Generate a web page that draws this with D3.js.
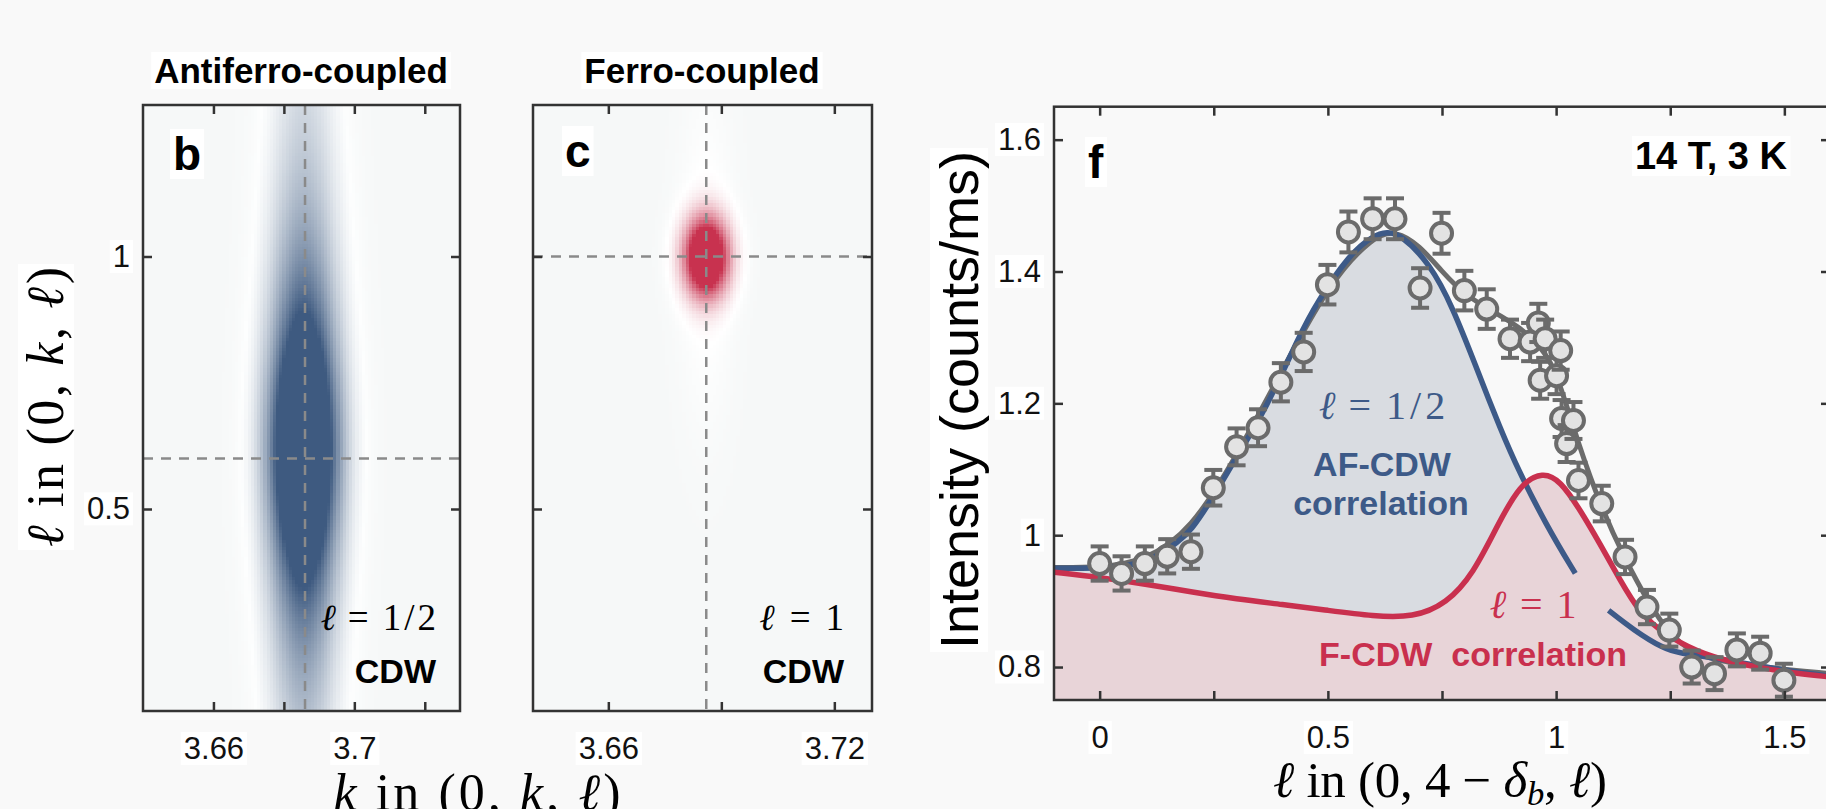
<!DOCTYPE html>
<html>
<head>
<meta charset="utf-8">
<script src="https://cdn.jsdelivr.net/npm/d3@7"></script>
<style>
html, body { margin: 0; padding: 0; background: #f9f9f9; }
svg { display: block; }
</style>
</head>
<body>
<div id="wrapper"></div>
<script>
// ---- panels b, c : model peaks in (k, l)
const kDomain = [3.64, 3.73]
const lDomain = [0.1, 1.3]
const bTicksK = [3.66, 3.68, 3.7, 3.72]
const bLabelsK = [3.66, 3.7]
const cTicksK = [3.66, 3.69, 3.72]
const cLabelsK = [3.66, 3.72]
const ticksL = [0.5, 1]
const afCentre = [3.6856, 0.62]   // k, l
const afWidth = [0.0067, 0.275]   // gaussian sigma in k, lorentz hwhm in l
const fCentre = [3.686, 1.0]
const fWidth = [0.0039, 0.052]
const fHalo = [0.0048, 0.22, 0.03]
const guideK = 3.686
const afGuideL = 0.6
const fGuideL = 1.0

// ---- panel f : scan along l
const ell = [0, 0.048, 0.099, 0.148, 0.2, 0.249, 0.3, 0.347, 0.397, 0.447, 0.499, 0.545, 0.598, 0.647, 0.702, 0.749, 0.799, 0.848, 0.899, 0.943, 0.961, 0.965, 0.976, 1.001, 1.01, 1.012, 1.023, 1.038, 1.049, 1.1, 1.151, 1.199, 1.248, 1.297, 1.347, 1.396, 1.447, 1.499]
const counts = [0.957, 0.942, 0.957, 0.968, 0.975, 1.072, 1.134, 1.163, 1.232, 1.278, 1.38, 1.46, 1.48, 1.48, 1.375, 1.458, 1.371, 1.343, 1.298, 1.293, 1.322, 1.235, 1.298, 1.242, 1.28, 1.177, 1.139, 1.174, 1.083, 1.048, 0.967, 0.891, 0.856, 0.8, 0.79, 0.826, 0.821, 0.78]
const errs = [0.026, 0.026, 0.026, 0.026, 0.026, 0.027, 0.028, 0.028, 0.029, 0.029, 0.03, 0.031, 0.031, 0.031, 0.03, 0.031, 0.03, 0.03, 0.029, 0.029, 0.029, 0.028, 0.029, 0.028, 0.029, 0.028, 0.028, 0.028, 0.027, 0.027, 0.026, 0.026, 0.025, 0.025, 0.025, 0.025, 0.025, 0.025]

const totalFit = [[-0.1, 0.951], [0, 0.951], [0.1, 0.961], [0.2, 1.007], [0.3, 1.12], [0.4, 1.25], [0.5, 1.38], [0.6, 1.455], [0.65, 1.462], [0.7, 1.44], [0.75, 1.4], [0.8, 1.364], [0.87, 1.336], [0.92, 1.316], [0.97, 1.283], [1.0, 1.25], [1.05, 1.135], [1.1, 1.04], [1.15, 0.965], [1.2, 0.9], [1.25, 0.848], [1.3, 0.822], [1.35, 0.81], [1.45, 0.8], [1.6, 0.79]]
const afFitLeft = [[-0.1, 0.95], [0, 0.95], [0.05, 0.952], [0.1, 0.96], [0.14, 0.974], [0.168, 0.988], [0.2, 1.006], [0.249, 1.058], [0.3, 1.119], [0.365, 1.192], [0.439, 1.305], [0.475, 1.352], [0.548, 1.427], [0.6, 1.455], [0.63, 1.46], [0.658, 1.457], [0.724, 1.412], [0.774, 1.345], [0.825, 1.255], [0.862, 1.189], [0.906, 1.114], [0.98, 1.013], [1.042, 0.942]]
const afFitRight = [[1.115, 0.886], [1.17, 0.856], [1.235, 0.828], [1.272, 0.821], [1.344, 0.814], [1.4, 0.807], [1.5, 0.795], [1.6, 0.786]]
const fFit = [[-0.1, 0.944], [0, 0.936], [0.1, 0.926], [0.2, 0.914], [0.3, 0.903], [0.4, 0.895], [0.5, 0.886], [0.6, 0.877], [0.687, 0.875], [0.76, 0.896], [0.819, 0.942], [0.87, 1.013], [0.921, 1.078], [0.971, 1.096], [1.009, 1.083], [1.053, 1.038], [1.096, 0.987], [1.14, 0.932], [1.184, 0.881], [1.235, 0.851], [1.309, 0.823], [1.382, 0.808], [1.455, 0.798], [1.528, 0.79], [1.6, 0.785]]
const fTicksX = [0, 0.25, 0.5, 0.75, 1, 1.25, 1.5]
const fTicksY = [0.8, 1, 1.2, 1.4, 1.6]

const blue = "#3d5a88", red = "#c9304e", grey = "#6b6b6b"
const sans = "'Liberation Sans', Arial, sans-serif"
const serif = "'Liberation Serif', 'DejaVu Serif', serif"

const width = 1826, height = 809
const svg = d3.select("#wrapper").append("svg")
    .attr("width", width)
    .attr("height", height)
svg.append("rect").attr("width", width).attr("height", height).attr("fill", "#f9f9f9")
const defs = svg.append("defs")

function whiteBox(textNode) {
    if (!textNode.textContent) return
    const b = textNode.getBBox()
    d3.select(textNode.parentNode).insert("rect", () => textNode)
        .attr("x", b.x - 3).attr("y", b.y + 1)
        .attr("width", b.width + 6).attr("height", b.height - 2)
        .attr("fill", "#ffffff")
}

function label(g, x, y, str, size, opts = {}) {
    const t = g.append("text")
        .attr("x", x).attr("y", y)
        .attr("font-family", opts.family || sans)
        .attr("font-size", size)
        .attr("font-weight", opts.weight || "normal")
        .attr("fill", opts.fill || "#000")
        .attr("text-anchor", opts.anchor || "start")
        .style("white-space", "pre")
        .text(str)
    if (opts.box) whiteBox(t.node())
    return t
}

// math text: parts are [string, italic, subscript, dx]
function math(g, x, y, parts, size, opts = {}) {
    const t = g.append("text")
        .attr("x", x).attr("y", y)
        .attr("font-family", serif)
        .attr("font-size", size)
        .attr("fill", opts.fill || "#000")
        .attr("text-anchor", opts.anchor || "middle")
        .style("white-space", "pre")
    if (opts.len) t.attr("textLength", opts.len).attr("lengthAdjust", "spacing")
    let lifted = false
    parts.forEach(p => {
        const s = t.append("tspan").text(p[0])
        if (p[1]) s.attr("font-style", "italic")
        if (p[3]) s.attr("dx", p[3])
        if (p[2]) { s.attr("dy", size * 0.16).attr("font-size", size * 0.68); lifted = true }
        else if (lifted) { s.attr("dy", -size * 0.16); lifted = false }
    })
    if (opts.box) whiteBox(t.node())
    return t
}

function frame(g, x, y, xTicks, xLabels, yTicks, yLabels, fmtX, fmtY) {
    const [x0, x1] = x.range(), [y0, y1] = y.range()
    const style = sel => {
        sel.select(".domain").remove()
        sel.selectAll(".tick line").attr("stroke", "#333").attr("stroke-width", 2.5)
        sel.selectAll(".tick text").attr("font-family", sans).attr("font-size", 31).attr("fill", "#111")
    }
    g.append("g").attr("transform", "translate(0," + y0 + ")")
        .call(d3.axisBottom(x).tickValues(xTicks).tickSize(-9).tickPadding(26)
            .tickFormat(d => xLabels.includes(d) ? fmtX(d) : ""))
        .call(style)
        .selectAll(".tick text").each(function() { whiteBox(this) })
    g.append("g").attr("transform", "translate(0," + y1 + ")")
        .call(d3.axisTop(x).tickValues(xTicks).tickSize(-9).tickFormat(""))
        .call(style)
    g.append("g").attr("transform", "translate(" + x0 + ",0)")
        .call(d3.axisLeft(y).tickValues(yTicks).tickSize(-9).tickPadding(13)
            .tickFormat(d => yLabels.includes(d) ? fmtY(d) : ""))
        .call(style)
        .selectAll(".tick text").each(function() { whiteBox(this) })
    g.append("g").attr("transform", "translate(" + x1 + ",0)")
        .call(d3.axisRight(y).tickValues(yTicks).tickSize(-9).tickFormat(""))
        .call(style)
    g.append("rect")
        .attr("x", x0).attr("y", y1)
        .attr("width", x1 - x0).attr("height", y0 - y1)
        .attr("fill", "none").attr("stroke", "#333").attr("stroke-width", 2.5)
}

function clip(id, x, y) {
    defs.append("clipPath").attr("id", id).append("rect")
        .attr("x", x.range()[0]).attr("y", y.range()[1])
        .attr("width", x.range()[1] - x.range()[0])
        .attr("height", y.range()[0] - y.range()[1])
}

// heat map of a peak as a grid of cells
const nk = 100, nl = 180
function heatmap(g, x, y, value, colour, clipId) {
    const [k0, k1] = x.domain(), [l0, l1] = y.domain()
    const dk = (k1 - k0) / nk, dl = (l1 - l0) / nl
    const cells = []
    for (let i = 0; i < nk; i++)
        for (let j = 0; j < nl; j++)
            cells.push([k0 + (i + 0.5) * dk, l0 + (j + 0.5) * dl])
    const cw = x(k0 + dk) - x(k0), ch = y(l0) - y(l0 + dl)
    g.append("g").attr("clip-path", "url(#" + clipId + ")")
        .attr("shape-rendering", "crispEdges")
        .selectAll("rect").data(cells).join("rect")
        .attr("x", d => x(d[0]) - cw / 2)
        .attr("y", d => y(d[1]) - ch / 2)
        .attr("width", cw + 0.7)
        .attr("height", ch + 0.7)
        .attr("fill", d => colour(value(d[0], d[1])))
}

function guides(g, x, y, kVal, lVal) {
    g.append("line")
        .attr("x1", x(kVal)).attr("x2", x(kVal))
        .attr("y1", y.range()[1]).attr("y2", y.range()[0])
        .attr("stroke", "#8a8a8a").attr("stroke-width", 2.5).attr("stroke-dasharray", "10,8")
    g.append("line")
        .attr("x1", x.range()[0]).attr("x2", x.range()[1])
        .attr("y1", y(lVal)).attr("y2", y(lVal))
        .attr("stroke", "#8a8a8a").attr("stroke-width", 2.5).attr("stroke-dasharray", "10,8")
}

const afValue = (k, l) => Math.exp(-Math.pow(k - afCentre[0], 2) / (2 * afWidth[0] * afWidth[0]))
    / (1 + Math.pow((l - afCentre[1]) / afWidth[1], 2))
const fValue = (k, l) => Math.exp(-Math.pow(k - fCentre[0], 2) / (2 * fWidth[0] * fWidth[0])
        - Math.pow(l - fCentre[1], 2) / (2 * fWidth[1] * fWidth[1]))
    + fHalo[2] * Math.exp(-Math.pow(k - fCentre[0], 2) / (2 * fHalo[0] * fHalo[0])
        - Math.pow(l - fCentre[1], 2) / (2 * fHalo[1] * fHalo[1]))
const afColour = d3.scaleLinear().domain([0, 0.03, 0.5]).range(["#f6f8f8", "#fdfefe", "#3e5a80"]).clamp(true)
const fColour = d3.scaleLinear().domain([0, 0.025, 0.55]).range(["#f6f8f8", "#ffffff", "#c8324f"]).clamp(true)

// ---------- panel b
const gB = svg.append("g")
const xB = d3.scaleLinear().domain(kDomain).range([143, 460])
const yB = d3.scaleLinear().domain(lDomain).range([711, 105])
clip("clipB", xB, yB)
heatmap(gB, xB, yB, afValue, afColour, "clipB")
guides(gB, xB, yB, guideK, afGuideL)
frame(gB, xB, yB, bTicksK, bLabelsK, ticksL, ticksL, d3.format(""), d3.format(""))
label(gB, 301, 83, "Antiferro-coupled", 35, { weight: "bold", anchor: "middle", box: true })
label(gB, 173, 170, "b", 46, { weight: "bold", box: true })
math(gB, 436, 630, [["ℓ", true], ["=", false, false, 12], ["1", false, false, 14], ["/", false, false, 3], ["2", false, false, 3]], 37, { anchor: "end" })
label(gB, 436, 683, "CDW", 34, { weight: "bold", anchor: "end" })

// ---------- panel c
const gC = svg.append("g")
const xC = d3.scaleLinear().domain(kDomain).range([533, 872])
const yC = d3.scaleLinear().domain(lDomain).range([711, 105])
clip("clipC", xC, yC)
heatmap(gC, xC, yC, fValue, fColour, "clipC")
guides(gC, xC, yC, guideK, fGuideL)
frame(gC, xC, yC, cTicksK, cLabelsK, ticksL, [], d3.format(""), d3.format(""))
label(gC, 702, 83, "Ferro-coupled", 35, { weight: "bold", anchor: "middle", box: true })
label(gC, 565, 167, "c", 46, { weight: "bold", box: true })
math(gC, 844, 630, [["ℓ", true], ["=", false, false, 15], ["1", false, false, 15]], 37, { anchor: "end" })
label(gC, 844, 683, "CDW", 34, { weight: "bold", anchor: "end" })

// shared axis titles for b, c (the bottom one runs off the page, as in the figure)
const yTitleB = svg.append("g").attr("transform", "translate(63,407) rotate(-90)")
math(yTitleB, 0, 0, [["ℓ", true], [" in (0, "], ["k", true], [", "], ["ℓ", true], [")"]], 52, { len: 280, box: true })
math(svg, 477, 810, [["k", true], [" in (0, "], ["k", true], [", "], ["ℓ", true], [")"]], 52, { len: 287 })

// ---------- panel f
const gF = svg.append("g")
const xF = d3.scaleLinear().domain([-0.1, 1.6]).range([1054, 1830])
const yF = d3.scaleLinear().domain([0.75, 1.65]).range([700, 106.7])
clip("clipF", xF, yF)
const plot = gF.append("g").attr("clip-path", "url(#clipF)")

const area = d3.area().curve(d3.curveBasis)
    .x(d => xF(d[0])).y0(yF(0.75)).y1(d => yF(d[1]))
const line = d3.line().curve(d3.curveBasis)
    .x(d => xF(d[0])).y(d => yF(d[1]))

plot.append("path").datum(afFitLeft).attr("d", area).attr("fill", "#d9dce1")
plot.append("path").datum(fFit).attr("d", area).attr("fill", "#e8d4d8")
plot.append("path").datum(totalFit).attr("d", line)
    .attr("fill", "none").attr("stroke", grey).attr("stroke-width", 5)
plot.selectAll(".af").data([afFitLeft, afFitRight]).join("path")
    .attr("class", "af").attr("d", line)
    .attr("fill", "none").attr("stroke", blue).attr("stroke-width", 5.5)
plot.append("path").datum(fFit).attr("d", line)
    .attr("fill", "none").attr("stroke", red).attr("stroke-width", 5.5)

const pts = gF.append("g").selectAll("g").data(ell).join("g")
pts.append("line")
    .attr("x1", d => xF(d)).attr("x2", d => xF(d))
    .attr("y1", (d, i) => yF(counts[i] - errs[i])).attr("y2", (d, i) => yF(counts[i] + errs[i]))
    .attr("stroke", grey).attr("stroke-width", 4)
pts.selectAll(".cap").data((d, i) => [[d, counts[i] - errs[i]], [d, counts[i] + errs[i]]]).join("line")
    .attr("class", "cap")
    .attr("x1", d => xF(d[0]) - 9).attr("x2", d => xF(d[0]) + 9)
    .attr("y1", d => yF(d[1])).attr("y2", d => yF(d[1]))
    .attr("stroke", grey).attr("stroke-width", 4)
pts.append("circle")
    .attr("cx", d => xF(d)).attr("cy", (d, i) => yF(counts[i]))
    .attr("r", 10.5)
    .attr("fill", "#e3e3e3").attr("stroke", grey).attr("stroke-width", 4)

frame(gF, xF, yF, fTicksX, [0, 0.5, 1, 1.5], fTicksY, fTicksY, d3.format(""), d3.format(""))

label(gF, 1088, 178, "f", 46, { weight: "bold", box: true })
label(gF, 1787, 169, "14 T, 3 K", 38, { weight: "bold", anchor: "end", box: true })
math(gF, 1382, 419, [["ℓ", true], ["=", false, false, 13], ["1", false, false, 15], ["/", false, false, 4], ["2", false, false, 4]], 40, { fill: blue })
label(gF, 1382, 476, "AF-CDW", 34, { weight: "bold", anchor: "middle", fill: blue })
label(gF, 1381, 515, "correlation", 34, { weight: "bold", anchor: "middle", fill: blue })
math(gF, 1533, 618, [["ℓ", true], ["=", false, false, 14], ["1", false, false, 14]], 40, { fill: red })
label(gF, 1473, 666, "F-CDW  correlation", 34, { weight: "bold", anchor: "middle", fill: red })

const yTitleF = svg.append("g").attr("transform", "translate(978,400) rotate(-90)")
label(yTitleF, 0, 0, "Intensity (counts/ms)", 54, { anchor: "middle", box: true })
math(svg, 1440, 797, [["ℓ", true], [" in (0, 4 − "], ["δ", true], ["b", true, true], [", "], ["ℓ", true], [")"]], 51, { len: 334 })
</script>
</body>
</html>
